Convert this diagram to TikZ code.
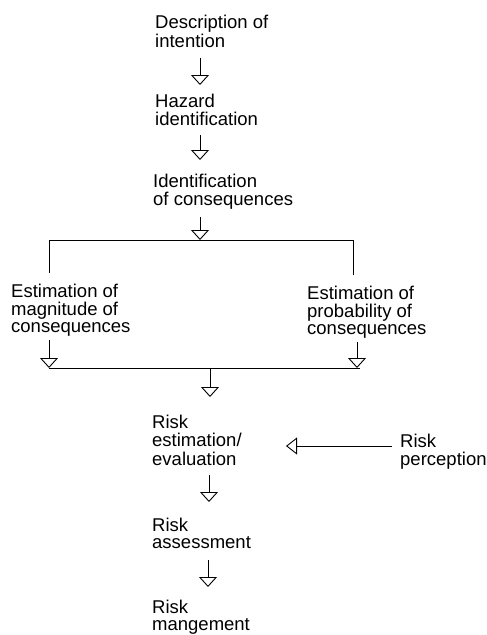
\documentclass[tikz,border=0pt]{standalone}
\usepackage{fontspec}
\setmainfont{Liberation Sans}
\usetikzlibrary{arrows.meta}
\newcommand{\blk}[1]{\begin{tabular}[t]{@{}l@{}}#1\end{tabular}}
\begin{document}
\begin{tikzpicture}[x=1pt,y=-1pt,
  lbl/.style={anchor=base west, inner sep=0pt, font=\fontsize{18.5}{17}\selectfont},
  flow/.style={line width=0.9pt, -{Triangle[open,length=10pt,width=18pt,line width=0.9pt]}},
  hflow/.style={line width=0.9pt, -{Triangle[open,length=11pt,width=17pt,line width=0.9pt]}},
  ln/.style={line width=1pt}]
\useasboundingbox (0,0) rectangle (487,635);

% text blocks
\node[lbl] (desc) at (155,28.5) {\blk{Description of\\ intention}};
\node[lbl] (haz) at (155,107) {\blk{Hazard\\ identification}};
\node[lbl] (idc) at (153,187) {\blk{Identification\\ of consequences}};
\node[lbl] (mag) at (11,297) {\blk{Estimation of\\ magnitude of\\ consequences}};
\node[lbl] (prob) at (307,299) {\blk{Estimation of\\ probability of\\ consequences}};
\node[lbl] (est) at (152,428) {\blk{Risk\\ estimation/\\ evaluation}};
\node[lbl] (perc) at (400,447) {\blk{Risk\\ perception}};
\node[lbl] (ass) at (152,531) {\blk{Risk\\ assessment}};
\node[lbl] (man) at (152,613.5) {\blk{Risk\\ mangement}};

% connector points
\coordinate (a1s) at (200,58);  \coordinate (a1e) at (200,85);
\coordinate (a2s) at (200,135); \coordinate (a2e) at (200,160);
\coordinate (a3s) at (200,217); \coordinate (a3e) at (200,240);
\coordinate (tl) at (49,240);   \coordinate (tr) at (353,240);
\coordinate (tlb) at (49,273);  \coordinate (trb) at (353,275);
\coordinate (bls) at (49,340);  \coordinate (ble) at (49,368);
\coordinate (brs) at (357,342); \coordinate (bre) at (357,368);
\coordinate (bl) at (49,368);   \coordinate (br) at (360,368);
\coordinate (a5s) at (210,368); \coordinate (a5e) at (210,397);
\coordinate (hs) at (392,446);  \coordinate (he) at (286,446);
\coordinate (a6s) at (209,475); \coordinate (a6e) at (209,502);
\coordinate (a7s) at (208,560); \coordinate (a7e) at (208,587);

\draw[flow] (a1s) -- (a1e);
\draw[flow] (a2s) -- (a2e);
\draw[flow] (a3s) -- (a3e);
\draw[ln] (tlb) -- (tl) -- (tr) -- (trb);
\draw[flow] (bls) -- (ble);
\draw[flow] (brs) -- (bre);
\draw[ln] (bl) -- (br);
\draw[flow] (a5s) -- (a5e);
\draw[hflow] (hs) -- (he);
\draw[flow] (a6s) -- (a6e);
\draw[flow] (a7s) -- (a7e);
\end{tikzpicture}
\end{document}
